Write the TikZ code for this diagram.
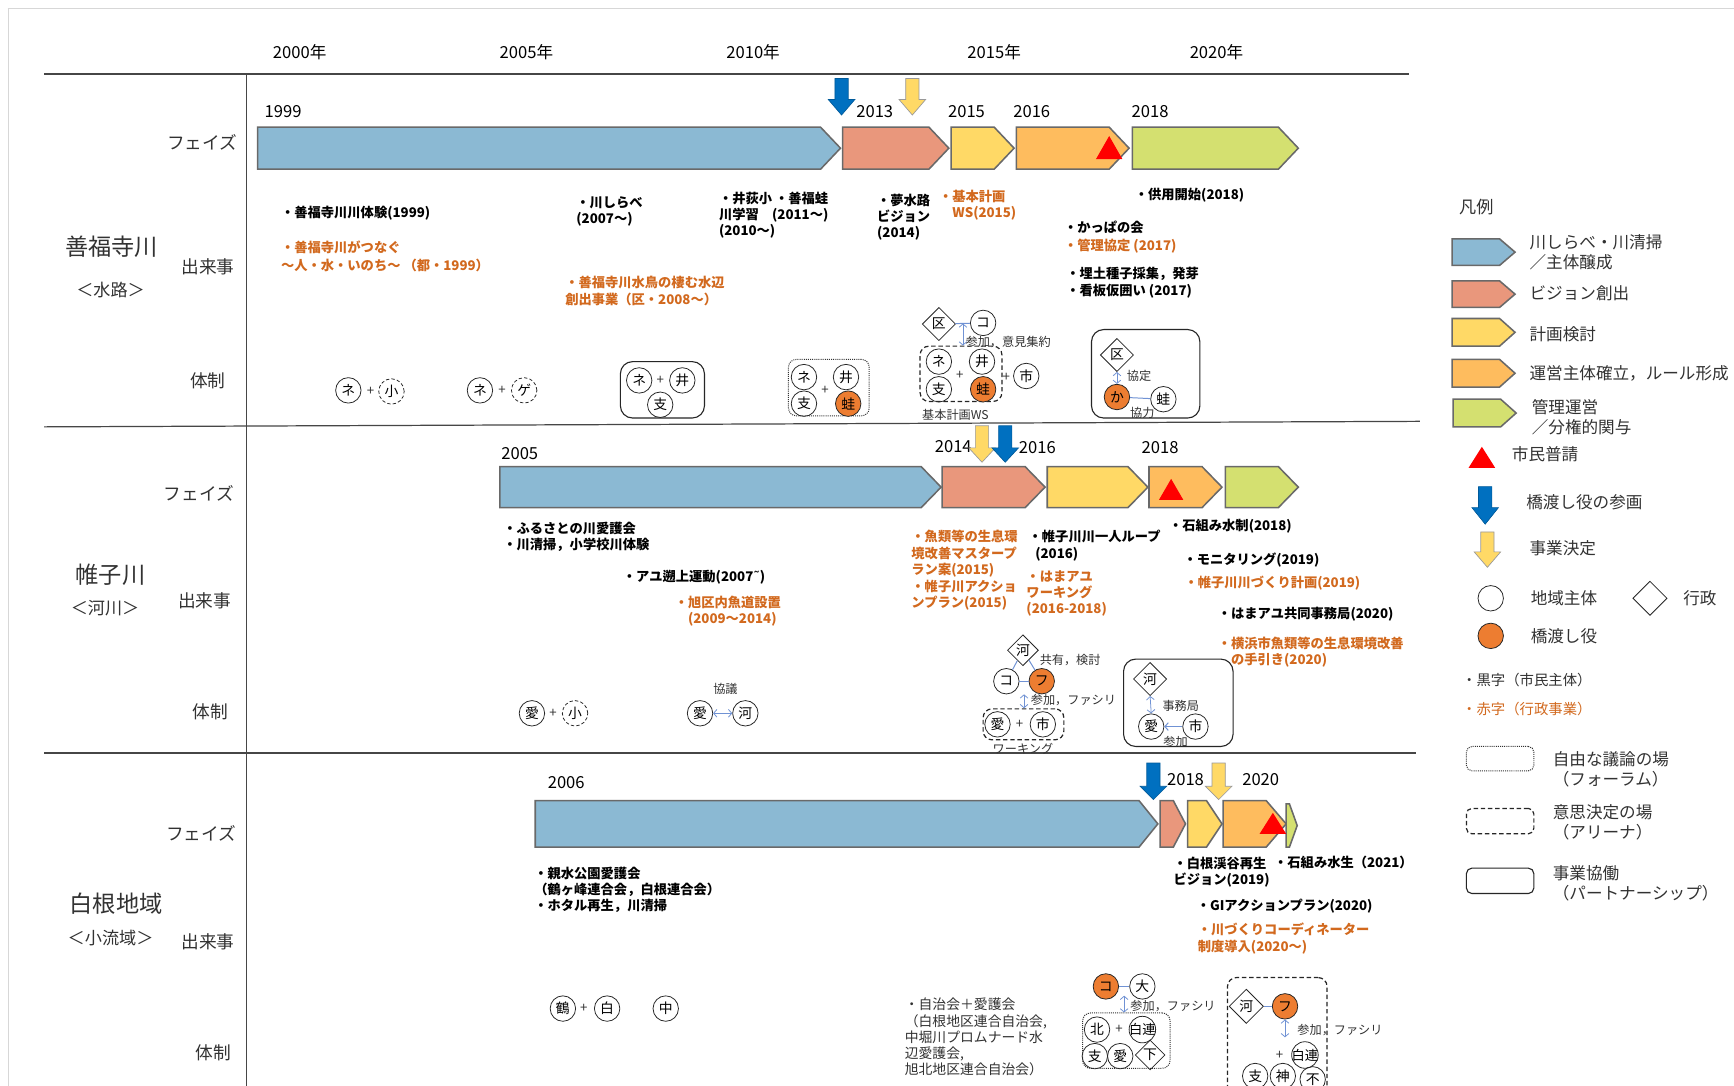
\documentclass[tikz,border=0pt]{standalone}
\usepackage{fontspec}
\setmainfont{Noto Sans CJK JP}
\newfontfamily\dejavu{DejaVu Sans}
\usetikzlibrary{shapes.geometric,arrows.meta,calc}
\definecolor{phblue}{RGB}{139,185,211}
\definecolor{phsalmon}{RGB}{233,151,124}
\definecolor{phyellow}{RGB}{255,217,102}
\definecolor{phorange}{RGB}{254,188,94}
\definecolor{phgreen}{RGB}{212,224,112}
\definecolor{phedge}{RGB}{105,105,105}
\definecolor{evorange}{RGB}{210,105,30}
\definecolor{brorange}{RGB}{237,125,49}
\definecolor{arrblue}{RGB}{0,112,192}
\definecolor{linkblue}{RGB}{112,146,212}
\definecolor{txtdark}{RGB}{50,50,50}
\definecolor{framegray}{RGB}{215,215,215}
\definecolor{rulegray}{RGB}{70,70,70}
\newcommand\phasearrow[6]{\draw[phase, fill=#6] (#1,#3-#4) -- (#2-#5,#3-#4) -- (#2,#3) -- (#2-#5,#3+#4) -- (#1,#3+#4) -- cycle;}
\newcommand\downarr[5]{\draw[#5] (#1-6,#2) -- (#1+6,#2) -- (#1+6,#3) -- (#1+12,#3) -- (#1,#4) -- (#1-12,#3) -- (#1-6,#3) -- cycle;}
\begin{document}
\begin{tikzpicture}[x=1pt,y=-1pt,
 phase/.style={draw=phedge, line width=1.4pt, line join=miter},
 barrow/.style={fill=arrblue, draw=arrblue!80!black, line width=0.6pt},
 yarrow/.style={fill=phyellow, draw=gray!80, line width=0.6pt},
 ev/.style={anchor=north west, inner sep=0pt, align=left, font=\fontsize{12}{15}\selectfont\bfseries, text=black},
 evo/.style={ev, text=evorange},
 yr/.style={font=\fontsize{15}{15}\selectfont, inner sep=0pt},
 rowname/.style={font=\fontsize{21}{21}\selectfont, text=txtdark, inner sep=0pt},
 rowsub/.style={font=\fontsize{15.5}{15.5}\selectfont, text=txtdark, inner sep=0pt},
 cat/.style={font=\fontsize{16}{16}\selectfont, text=txtdark, inner sep=0pt},
 org/.style={circle, draw=black!85, line width=0.7pt, minimum size=23pt, inner sep=0pt, font=\fontsize{12.5}{12.5}\selectfont},
 orgd/.style={org, densely dashed},
 orgo/.style={org, fill=brorange},
 gov/.style={diamond, aspect=1, draw=black!85, line width=0.7pt, minimum size=30pt, inner sep=0pt, font=\fontsize{12.5}{12.5}\selectfont},
 pl/.style={font=\fontsize{12}{12}\selectfont, inner sep=0pt, text=txtdark},
 sm/.style={font=\fontsize{11}{11}\selectfont, inner sep=0pt, text=txtdark},
 link/.style={draw=linkblue, line width=0.9pt},
 dlink/.style={draw=linkblue, line width=0.7pt, {Straight Barb[length=3pt,width=7pt]}-{Straight Barb[length=3pt,width=7pt]}},
 forum/.style={draw=black!80, densely dotted, line width=0.9pt, rounded corners=7pt, inner sep=0pt},
 arena/.style={draw=black!85, dash pattern=on 4pt off 2.5pt, line width=1.1pt, rounded corners=8pt, inner sep=0pt},
 partner/.style={draw=black!85, line width=1pt, rounded corners=11pt, inner sep=0pt},
 leg/.style={anchor=west, font=\fontsize{15}{18}\selectfont, text=txtdark, inner sep=0pt, align=left},
 blk/.style={anchor=north west, inner sep=0pt, align=left, font=\fontsize{12.5}{14.7}\selectfont, text=txtdark}]
\path[use as bounding box, clip] (0,0) rectangle (1568,982);
\fill[white] (0,0) rectangle (1568,982);
% frame
\draw[framegray, line width=1pt] (7,7.5) -- (1568,7.5);
\draw[framegray, line width=1pt] (7.5,7.5) -- (7.5,982);
% grid lines
\draw[rulegray, line width=1.1pt] (40,67) -- (1274,67);
\draw[rulegray, line width=1.1pt] (40,386) -- (1284,381);
\draw[rulegray, line width=1.1pt] (40,681) -- (1280,681);
\draw[rulegray, line width=1.1pt] (223,67) -- (223,982);
% header years
\node[yr] (y2000) at (271,47) {2000年};
\node[yr] (y2005) at (476,47) {2005年};
\node[yr] (y2010) at (681,47) {2010年};
\node[yr] (y2015) at (899,47) {2015年};
\node[yr] (y2020) at (1100,47) {2020年};
% row labels
\node[rowname] (r1n) at (101,223) {善福寺川};
\node[rowsub] (r1s) at (100,262) {＜水路＞};
\node[cat] (r1a) at (183,129) {フェイズ};
\node[cat] (r1b) at (188,241) {出来事};
\node[cat] (r1c) at (188,344) {体制};
\node[rowname] (r2n) at (100,520) {帷子川};
\node[rowsub] (r2s) at (95,550) {＜河川＞};
\node[cat] (r2a) at (180,446) {フェイズ};
\node[cat] (r2b) at (185,543) {出来事};
\node[cat] (r2c) at (190,644) {体制};
\node[rowname] (r3n) at (105,817) {白根地域};
\node[rowsub] (r3s) at (100,848) {＜小流域＞};
\node[cat] (r3a) at (182,754) {フェイズ};
\node[cat] (r3b) at (188,852) {出来事};
\node[cat] (r3c) at (193,952) {体制};
% ===== row 1 phases
\phasearrow{233}{760}{134}{19}{18}{phblue}
\phasearrow{762}{858}{134}{19}{18}{phsalmon}
\phasearrow{860}{917}{134}{19}{18}{phyellow}
\phasearrow{919}{1021}{134}{19}{18}{phorange}
\phasearrow{1024}{1174}{134}{19}{18}{phgreen}
\fill[red] (1003,123) -- (1015,144) -- (991,144) -- cycle;
\downarr{761}{71}{90}{104}{barrow}
\downarr{825}{71}{90}{104}{yarrow}
\node[yr] (a1999) at (256,101) {1999};
\node[yr] (a2013) at (791,101) {2013};
\node[yr] (a2015) at (874,101) {2015};
\node[yr] (a2016) at (933,101) {2016};
\node[yr] (a2018) at (1040,101) {2018};
% ===== row 2 phases
\phasearrow{452}{851}{440.5}{18.5}{18}{phblue}
\phasearrow{852}{945}{440.5}{18.5}{18}{phsalmon}
\phasearrow{947}{1038}{440.5}{18.5}{18}{phyellow}
\phasearrow{1039}{1105}{440.5}{18.5}{18}{phorange}
\phasearrow{1108}{1174}{440.5}{18.5}{18}{phgreen}
\fill[red] (1059,433) -- (1070,452) -- (1048,452) -- cycle;
\node[yr] (b2005) at (470,410) {2005};
\node[yr] (b2014) at (862,404) {2014};
\node[yr] (b2016) at (938,405) {2016};
\node[yr] (b2018) at (1049,405) {2018};
\downarr{888}{385}{405}{418}{yarrow}
\downarr{909}{385}{405}{418}{barrow}
% ===== row 3 phases
\phasearrow{484}{1047}{745}{21}{17}{phblue}
\phasearrow{1049}{1072}{745}{21}{11}{phsalmon}
\phasearrow{1074}{1105}{745}{21}{14}{phyellow}
\phasearrow{1106}{1163}{745}{21}{18}{phorange}
\phasearrow{1163}{1173}{746.5}{19.5}{7}{phgreen}
\fill[red] (1151,735) -- (1163,754) -- (1139,754) -- cycle;
\node[yr] (c2006) at (512,708) {2006};
\node[yr] (c2018) at (1072,705) {2018};
\node[yr] (c2020) at (1140,705) {2020};
\downarr{1043}{690}{711}{723}{barrow}
\downarr{1102}{690}{711}{723}{yarrow}
% ===== row 1 events
\node[ev] (e1) at (254,186.5) {・善福寺川川体験(1999)};
\node[evo, font=\fontsize{12}{16}\selectfont\bfseries] (e2) at (254,217.5) {・善福寺川がつなぐ\\～人・水・いのち～ （都・1999）};
\node[ev] (e3) at (521,177.5) {・川しらべ\\(2007～)};
\node[evo] (e4) at (511,249.5) {・善福寺川水鳥の棲む水辺\\創出事業（区・2008～）};
\node[ev, font=\fontsize{12}{14.5}\selectfont\bfseries] (e5) at (650,173.5) {・井荻小 ・善福蛙\\川学習　(2011～)\\(2010～)};
\node[ev, font=\fontsize{12}{14.2}\selectfont\bfseries] (e6) at (793,175.5) {・夢水路\\ビジョン\\(2014)};
\node[evo] (e7) at (849,171.5) {・基本計画\\　WS(2015)};
\node[ev] (e8) at (1026,169.5) {・供用開始(2018)};
\node[ev] (e9) at (962,199.5) {・かっぱの会};
\node[evo] (e10) at (962,215.5) {・管理協定 (2017)};
\node[ev, font=\fontsize{12}{15.5}\selectfont\bfseries] (e11) at (964,241.5) {・埋土種子採集，発芽\\・看板仮囲い (2017)};
% ===== row 2 events
\node[ev] (e12) at (455,471.5) {・ふるさとの川愛護会\\・川清掃，小学校川体験};
\node[ev] (e13) at (563,515.5) {・アユ遡上運動(2007{\dejavu\bfseries ˜})};
\node[evo] (e14) at (610,538.5) {・旭区内魚道設置\\　(2009～2014)};
\node[evo, font=\fontsize{12}{14.8}\selectfont\bfseries] (e15) at (824,479.5) {・魚類等の生息環\\境改善マスタープ\\ラン案(2015)\\・帷子川アクショ\\ンプラン(2015)};
\node[ev] (e16) at (930,479.5) {・帷子川川一人ループ\\\hspace{6pt}(2016)};
\node[evo, font=\fontsize{12}{14.5}\selectfont\bfseries] (e17) at (928,515.5) {・はまアユ\\ワーキング\\(2016-2018)};
\node[ev] (e18) at (1057,469.5) {・石組み水制(2018)};
\node[ev] (e19) at (1070,499.5) {・モニタリング(2019)};
\node[evo] (e20) at (1071,520.5) {・帷子川川づくり計画(2019)};
\node[ev] (e21) at (1101,548.5) {・はまアユ共同事務局(2020)};
\node[evo] (e22) at (1101,575.5) {・横浜市魚類等の生息環境改善\\　の手引き(2020)};
% ===== row 3 events
\node[ev, font=\fontsize{12}{14.5}\selectfont\bfseries] (e23) at (483,783.5) {・親水公園愛護会\\（鶴ヶ峰連合会，白根連合会）\\・ホタル再生，川清掃};
\node[ev] (e24) at (1061,774.5) {・白根渓谷再生\\ビジョン(2019)};
\node[ev] (e25) at (1152,773.5) {・石組み水生（2021）};
\node[ev] (e26) at (1082,812.5) {・GIアクションプラン(2020)};
\node[evo] (e27) at (1083,834.5) {・川づくりコーディネーター\\制度導入(2020～)};
% ===== row 1 structure
\node[org] (n1a) at (315,353) {ネ};
\node[pl] (p1a) at (335,354) {+};
\node[orgd] (s1a) at (354,354) {小};
\node[org] (n1b) at (434,353) {ネ};
\node[pl] (p1b) at (454,353) {+};
\node[orgd] (g1b) at (474,353) {ゲ};
\node[partner, minimum width=76pt, minimum height=51pt] (pb1) at (599,352.5) {};
\node[org] (n1c) at (578,344) {ネ};
\node[pl] (p1c) at (597,344) {+};
\node[org] (i1c) at (617,344) {井};
\node[org] (s1c) at (597,366) {支};
\node[forum, minimum width=73pt, minimum height=51pt] (fb1) at (749.5,350.5) {};
\node[org] (n1d) at (727,341) {ネ};
\node[org] (i1d) at (765,341) {井};
\node[org] (s1d) at (727,365) {支};
\node[orgo] (a1d) at (767,365) {蛙};
\node[pl] (p1d) at (746,353) {+};
\node[arena, minimum width=74pt, minimum height=50pt] (ws1) at (869,338) {};
\node[org] (n1e) at (849,327) {ネ};
\node[org] (i1e) at (888,327) {井};
\node[org] (s1e) at (849,352) {支};
\node[orgo] (a1e) at (889,352) {蛙};
\node[pl] (p1e) at (868,339) {+};
\node[pl] (p1f) at (910,341) {+};
\node[org] (c1f) at (928,340) {市};
\node[gov] (k1) at (849,293) {区};
\node[org] (co1) at (889,292) {コ};
\draw[link] (k1) -- (co1);
\coordinate (m1) at ($(k1.east)!0.5!(co1.west)$);
\draw[dlink] (m1) -- (m1 |- ws1.north);
\node[sm, anchor=west] (l1a) at (873,309) {参加，意見集約};
\node[sm] (l1b) at (864,375) {基本計画WS};
\node[partner, minimum width=98pt, minimum height=80pt] (pb2) at (1036,338) {};
\node[gov] (k2) at (1010,321) {区};
\node[orgo] (ka) at (1010,359) {か};
\node[org] (a2) at (1052,361) {蛙};
\draw[dlink] (k2.south) -- (ka.north);
\draw[link] (ka) -- (a2);
\node[sm] (l1c) at (1030,340) {協定};
\node[sm] (l1d) at (1033,373) {協力};
% ===== row 2 structure
\node[org] (ai1) at (481,645) {愛};
\node[pl] (p2a) at (500,645) {+};
\node[orgd] (s2a) at (520,645) {小};
\node[sm] (l2a) at (656,623) {協議};
\node[org] (ai2) at (633,645) {愛};
\node[org] (kw1) at (674,645) {河};
\draw[dlink] (ai2) -- (kw1);
\node[gov, minimum size=28pt] (kd2) at (925,588) {河};
\node[org] (co2) at (910,616) {コ};
\node[orgo] (fu2) at (942,616) {フ};
\draw[link] (kd2) -- (co2);
\draw[link] (kd2) -- (fu2);
\draw[link] (co2) -- (fu2);
\node[sm, anchor=west] (l2b) at (940,597) {共有，検討};
\node[arena, minimum width=73pt, minimum height=28pt] (wk2) at (925.5,655) {};
\coordinate (m2) at ($(co2.south)!0.5!(fu2.south)$);
\draw[dlink] (m2) -- (m2 |- wk2.north);
\node[sm, anchor=west] (l2c) at (932,633) {参加，ファシリ};
\node[org] (ai3b) at (902,655) {愛};
\node[pl] (p2b) at (922,655) {+};
\node[org] (sh2) at (943,655) {市};
\node[sm] (l2d) at (925,677) {ワーキング};
\node[partner, minimum width=99pt, minimum height=79pt] (pb3) at (1065.5,635.5) {};
\node[gov] (kd3) at (1040,614) {河};
\node[org] (ai3) at (1041,657) {愛};
\node[org] (sh3) at (1081,657) {市};
\draw[dlink] (kd3.south) -- (ai3.north);
\draw[link, -{Straight Barb[length=3pt,width=7pt]}] (sh3) -- (ai3);
\node[sm, anchor=west] (l2e) at (1051,638) {事務局};
\node[sm] (l2f) at (1063,671) {参加};
% ===== row 3 structure
\node[org] (tu3) at (509,912) {鶴};
\node[pl] (p3a) at (528,912) {+};
\node[org] (sr3) at (549,912) {白};
\node[org] (na3) at (602,912) {中};
\node[blk] (t3) at (818,902.5) {・自治会＋愛護会\\（白根地区連合自治会,\\中堀川プロムナード水\\辺愛護会,\\旭北地区連合自治会）};
\node[orgo] (co3) at (1000,892) {コ};
\node[org] (da3) at (1033,892) {大};
\draw[link] (co3) -- (da3);
\node[forum, minimum width=79pt, minimum height=50pt] (fb3) at (1018.5,941) {};
\coordinate (m3) at ($(co3.south east)!0.5!(da3.south west)$);
\draw[dlink] (m3) -- (m3 |- fb3.north);
\node[sm, anchor=west] (l3a) at (1022,910) {参加，ファシリ};
\node[org] (ki3) at (992,931) {北};
\node[pl] (p3b) at (1012,931) {+};
\node[org, minimum size=24pt, label={[font=\fontsize{12}{12}\selectfont, inner sep=0pt]center:白連}] (sr4) at (1033,931) {};
\node[org] (si3) at (990,955) {支};
\node[org] (ai4) at (1013,955) {愛};
\node[gov, minimum size=27pt] (sh4) at (1040,954) {下};
\node[arena, minimum width=90pt, minimum height=111pt] (ar3) at (1155,939.5) {};
\node[gov, minimum size=31pt] (kd4) at (1127,910) {河};
\node[orgo] (fu4) at (1162,910) {フ};
\draw[link] (kd4) -- (fu4);
\coordinate (fu4end) at (1162,938);
\draw[dlink] (fu4.south) -- (fu4end);
\node[sm, anchor=west] (l3b) at (1173,931) {参加，ファシリ};
\node[pl] (p3c) at (1157,954) {+};
\node[org, minimum size=24pt, label={[font=\fontsize{12}{12}\selectfont, inner sep=0pt]center:白連}] (sr5) at (1180,954) {};
\node[org] (si4) at (1135,973) {支};
\node[org] (ka4) at (1160,973) {神};
\node[org] (fu5) at (1187,976) {不};
% ===== legend
\node[font=\fontsize{15.5}{15.5}\selectfont, text=txtdark, inner sep=0pt] (lgt) at (1335,187) {凡例};
\phasearrow{1313}{1370}{228}{12}{14}{phblue}
\phasearrow{1313}{1370}{266}{12}{14}{phsalmon}
\phasearrow{1313}{1370}{300.5}{12.5}{14}{phyellow}
\phasearrow{1313}{1370}{337.5}{12.5}{14}{phorange}
\phasearrow{1314}{1371}{373.5}{12.5}{14}{phgreen}
\node[leg] (lg1) at (1383,228) {川しらべ・川清掃\\／主体醸成};
\node[leg] (lg2) at (1383,265) {ビジョン創出};
\node[leg] (lg3) at (1383,302) {計画検討};
\node[leg] (lg4) at (1383,338) {運営主体確立，ルール形成};
\node[leg] (lg5) at (1385,377) {管理運営\\／分権的関与};
\fill[red] (1340,404) -- (1352,423) -- (1328,423) -- cycle;
\node[leg] (lg6) at (1367,411) {市民普請};
\downarr{1343}{440}{459}{474}{barrow}
\node[leg] (lg7) at (1380,454) {橋渡し役の参画};
\downarr{1345}{481}{499}{513}{yarrow}
\node[leg] (lg8) at (1383,496) {事業決定};
\node[org] (lgc) at (1348,541) {};
\node[leg] (lg9) at (1384,541) {地域主体};
\node[gov, minimum size=31pt] (lgd) at (1492,541) {};
\node[leg] (lg10) at (1522,541) {行政};
\node[orgo] (lgo) at (1348,575) {};
\node[leg] (lg11) at (1384,575) {橋渡し役};
\node[leg, font=\fontsize{13}{13}\selectfont, text=txtdark] (lg12) at (1322,615) {・黒字（市民主体）};
\node[leg, font=\fontsize{13}{13}\selectfont, text=evorange] (lg13) at (1322,641) {・赤字（行政事業）};
\node[forum, rounded corners=5pt, minimum width=61pt, minimum height=22pt] (lgf) at (1356.5,686) {};
\node[leg] (lg14) at (1404,696) {自由な議論の場\\（フォーラム）};
\node[arena, rounded corners=5pt, minimum width=61pt, minimum height=23pt] (lga) at (1356.5,742.5) {};
\node[leg] (lg15) at (1404,744) {意思決定の場\\（アリーナ）};
\node[partner, rounded corners=5pt, minimum width=61pt, minimum height=23pt] (lgp) at (1356.5,796.5) {};
\node[leg] (lg16) at (1404,799) {事業協働\\（パートナーシップ）};
\end{tikzpicture}
\end{document}
